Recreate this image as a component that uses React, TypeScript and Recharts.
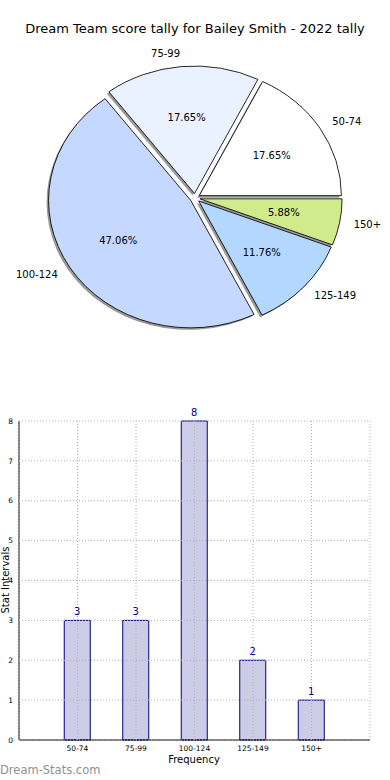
import React from 'react';
import { PieChart, Pie, Sector, BarChart, Bar, XAxis, YAxis, CartesianGrid, LabelList } from 'recharts';

// score bands and how many games fell in each
const bands = ['50-74', '75-99', '100-124', '125-149', '150+'];
const counts = [3, 3, 8, 2, 1];
const sliceColors = ['#ffffff', '#eaf1ff', '#c5d8ff', '#b4d7ff', '#cfeb8b'];
const yTicks = [0, 1, 2, 3, 4, 5, 6, 7, 8];

const pieData = bands.map((name, i) => ({ name, value: counts[i], color: sliceColors[i] }));
const barData = bands.map((name, i) => ({ idx: i, name, count: counts[i] }));

// matplotlib pie without equal aspect -> slightly wide ellipse
const SX = 1.115;
const EXPLODE = 4.5;
const RAD = Math.PI / 180;
const FONT = '"DejaVu Sans", Verdana, sans-serif';

const slice = (shadow: boolean) => (props: any) => {
  const { cx, cy, midAngle, startAngle, endAngle, outerRadius, payload } = props;
  const dx = Math.cos(-midAngle * RAD) * EXPLODE;
  const dy = Math.sin(-midAngle * RAD) * EXPLODE;
  const fill = payload?.color ?? props.fill;
  return (
    <g transform={`translate(${cx} ${cy}) scale(${SX} 1) translate(${-cx} ${-cy})`}>
      {shadow ? (
        <Sector cx={cx + dx - 2 / SX} cy={cy + dy + 2} innerRadius={0} outerRadius={outerRadius}
          startAngle={startAngle} endAngle={endAngle} fill="#000" fillOpacity={0.4} stroke="none" />
      ) : (
        <Sector cx={cx + dx} cy={cy + dy} innerRadius={0} outerRadius={outerRadius}
          startAngle={startAngle} endAngle={endAngle} fill={fill} stroke="#000" strokeWidth={0.8} />
      )}
    </g>
  );
};

const renderLabel = (props: any) => {
  const { cx, cy, midAngle, outerRadius, percent, name } = props;
  const c = Math.cos(-midAngle * RAD);
  const s = Math.sin(-midAngle * RAD);
  const rl = outerRadius * 1.1 + EXPLODE;
  const rp = outerRadius * 0.6 + EXPLODE;
  return (
    <g>
      <text x={cx + c * rl * SX} y={cy + s * rl} textAnchor={c >= 0 ? 'start' : 'end'}
        dominantBaseline="central" fontSize={10} fill="#000" fontFamily={FONT}>{name}</text>
      <text x={cx + c * rp * SX} y={cy + s * rp} textAnchor="middle"
        dominantBaseline="central" fontSize={10} fill="#000" fontFamily={FONT}>{(percent * 100).toFixed(2)}%</text>
    </g>
  );
};

export default function App() {
  return (
    <div style={{ position: 'absolute', left: 0, top: 0, width: 390, height: 780, background: '#fff', fontFamily: FONT }}>
      <div style={{ position: 'absolute', top: 21, left: 0, width: 390, textAlign: 'center', fontSize: 13, lineHeight: '16px' }}>
        Dream Team score tally for Bailey Smith - 2022 tally
      </div>
      <div style={{ position: 'absolute', top: 0, left: 0 }}>
        <PieChart width={390} height={360} margin={{ top: 0, right: 0, bottom: 0, left: 0 }}>
          <Pie data={pieData} dataKey="value" nameKey="name" cx={195} cy={198} outerRadius={127.5}
            startAngle={0} endAngle={360} stroke="none" shape={slice(true)} isAnimationActive={false} />
          <Pie data={pieData} dataKey="value" nameKey="name" cx={195} cy={198} outerRadius={127.5}
            startAngle={0} endAngle={360} stroke="none" shape={slice(false)} label={renderLabel}
            labelLine={false} isAnimationActive={false} />
        </PieChart>
      </div>

      <div style={{ position: 'absolute', top: 400, left: 0 }}>
        <BarChart width={390} height={380} data={barData} margin={{ top: 21, right: 20, bottom: 0, left: 0 }}>
          <XAxis dataKey="idx" type="number" domain={[-1, 5]} ticks={[0, 1, 2, 3, 4]} interval={0}
            tickFormatter={(i: number) => bands[i]} height={40} tickLine={false} tickSize={4}
            tick={{ fontSize: 7.5, fill: '#000', fontFamily: FONT }} axisLine={{ stroke: '#000' }} />
          <XAxis xAxisId="top" orientation="top" type="number" domain={[-1, 5]} height={0}
            tick={false} tickLine={false} axisLine={{ stroke: '#000' }} />
          <YAxis type="number" domain={[0, 8]} ticks={yTicks} width={19} tickLine={false} tickSize={4}
            tick={{ fontSize: 7.5, fill: '#000', fontFamily: FONT }} axisLine={{ stroke: '#000' }} />
          <YAxis yAxisId="right" orientation="right" type="number" domain={[0, 8]} width={0}
            tick={false} tickLine={false} axisLine={{ stroke: '#000' }} />
          <Bar dataKey="count" fill="#ccccE6" stroke="#000080" strokeWidth={1} barSize={26} isAnimationActive={false}>
            <LabelList dataKey="count" position="top" offset={5} fill="#000080" fontSize={10} fontFamily={FONT} />
          </Bar>
          <CartesianGrid stroke="#b0b0b0" strokeDasharray="1 2" {...({ zIndex: 500 } as any)} />
        </BarChart>
      </div>

      <div style={{ position: 'absolute', top: 754, left: 0, width: 390, textAlign: 'center', fontSize: 10, lineHeight: '12px' }}>
        <span style={{ position: 'relative', left: -1 }}>Frequency</span>
      </div>
      <div style={{ position: 'absolute', left: -29.5, top: 574, width: 70, textAlign: 'center', fontSize: 10,
        lineHeight: '12px', transform: 'rotate(-90deg)', whiteSpace: 'nowrap' }}>
        Stat Intervals
      </div>
      <div style={{ position: 'absolute', left: 0, top: 763, fontSize: 11.5, color: '#909090', lineHeight: '14px' }}>
        Dream-Stats.com
      </div>
    </div>
  );
}
